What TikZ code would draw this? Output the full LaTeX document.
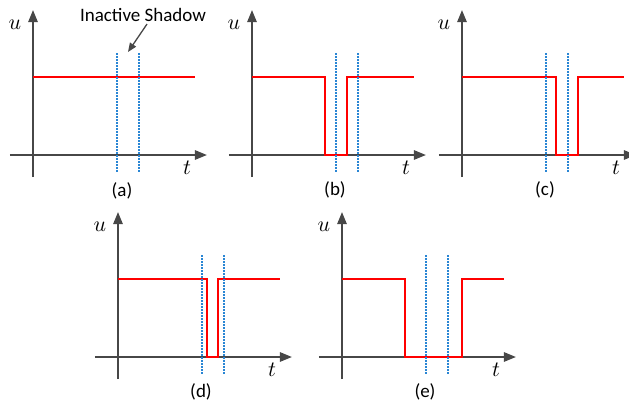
\documentclass[tikz,border=0pt]{standalone}
\usepackage{fontspec}
\setmainfont{Carlito}
\usetikzlibrary{arrows.meta}

\definecolor{shadowblue}{HTML}{2A86D4}
\tikzset{
  axisline/.style={draw=black!72,line width=1pt,-{Triangle[length=6pt,width=4.6pt]}},
  signal/.style={draw=red,line width=1pt},
  shadowline/.style={draw=shadowblue,line width=0.75pt,dash pattern=on 0.75pt off 0.75pt},
  varlbl/.style={font=\fontsize{10.5}{12}\selectfont,inner sep=0pt},
  caption/.style={font=\fontsize{9.5}{11}\selectfont,inner sep=1pt},
  pointer/.style={draw=black!72,line width=0.65pt,-{Triangle[length=4.5pt,width=3.6pt]}}
}

\begin{document}
\begin{tikzpicture}[x=0.5pt,y=-0.5pt]
\useasboundingbox (0,0) rectangle (629,403);
\clip (0,0) rectangle (629,403);

% panel (a): no gap
\draw[axisline] (10,155) -- (207,155);
\draw[axisline] (33,177) -- (33,10);
\draw[signal] (33,77) -- (195,77);
\draw[shadowline] (117,53) -- (117,172);
\draw[shadowline] (139,53) -- (139,172);
\node[varlbl] (ua) at (15,25) {$u$};
\node[varlbl] (ta) at (187,168) {$t$};
\node[caption] (capa) at (122,191) {(a)};
\node[caption] (shadowlbl) at (143,15) {Inactive Shadow};
\coordinate (shadowtip) at (128,52);
\draw[pointer] ([xshift=2pt]shadowlbl.south) -- (shadowtip);

% panels (b)-(e): axis x / axis y / drop / rise / tag
\foreach \ax/\ay/\dn/\up/\tag in {252/155/73/95/b,462/155/94/116/c,118/357/89/100/d,342/357/63/120/e}{
  \draw[axisline] (\ax-23,\ay) -- (\ax+174,\ay);
  \draw[axisline] (\ax,\ay+22) -- (\ax,\ay-145);
  \draw[signal] (\ax,\ay-78) -- (\ax+\dn,\ay-78) -- (\ax+\dn,\ay)
    -- (\ax+\up,\ay) -- (\ax+\up,\ay-78) -- (\ax+162,\ay-78);
  \draw[shadowline] (\ax+84,\ay-102) -- (\ax+84,\ay+17);
  \draw[shadowline] (\ax+106,\ay-102) -- (\ax+106,\ay+17);
  \node[varlbl] (u\tag) at (\ax-18,\ay-130) {$u$};
  \node[varlbl] (t\tag) at (\ax+154,\ay+13) {$t$};
  \node[caption] (cap\tag) at (\ax+83,\ay+35) {(\tag)};
}
\end{tikzpicture}
\end{document}
